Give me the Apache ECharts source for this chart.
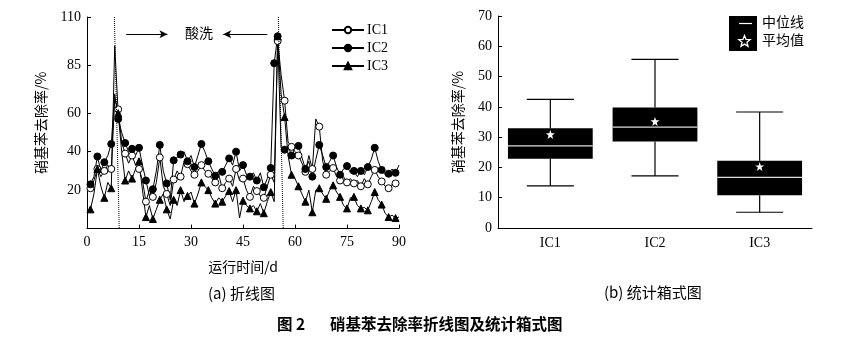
<!DOCTYPE html>
<html>
<head>
<meta charset="utf-8">
<script src="https://cdn.jsdelivr.net/npm/echarts@6/dist/echarts.min.js"></script>
<style>
  html, body { margin: 0; padding: 0; background: #fff; }
  #chart { width: 843px; height: 344px; }
</style>
</head>
<body>
<div id="chart"></div>
<script>
// Nitrobenzene removal rate (%) per operating day, three reactors
const days = Array.from({ length: 90 }, (_, i) => i + 1);

const ic1 = [21, 25, 31, 27, 30, 33, 31, 67, 62, 45,
             39, 34, 38, 33, 31, 25, 14, 20, 16.5, 24,
             37, 22, 18, 12, 25.5, 30, 27, 35, 33.5, 30,
             28, 30, 33, 30, 28.5, 26, 24, 28, 21, 24,
             26, 22, 31, 25, 26, 20, 16.5, 22, 19.5, 17,
             16, 22, 28, 24, 97.5, 80, 66.5, 45, 42.5, 40,
             38, 34, 29.5, 38, 31, 57, 53, 35, 28, 30,
             31.5, 27, 25, 27, 24, 26, 23.5, 25, 22, 26,
             23, 27, 30.5, 27, 24.5, 22, 21, 23, 23.5, 24];

const ic2 = [23, 27, 37.5, 30, 34.5, 38, 44, 70, 57, 50,
             44.5, 40, 41.5, 38, 42, 33, 25, 17, 20.5, 30,
             43.5, 30, 23.5, 15, 35.5, 37, 38.5, 40, 35, 38,
             32, 38, 44, 40, 35, 31, 27.5, 30, 29.5, 33,
             36.5, 33, 40, 30, 33, 28, 27, 29, 25, 29,
             21.5, 26, 31.5, 86, 100, 42, 41, 43, 38, 42,
             43, 37, 31, 35, 27, 36, 43.5, 38, 32, 35,
             38, 32, 28, 31, 32.5, 29, 30, 27, 30, 28,
             32, 36, 42, 35, 30.5, 28, 28.5, 31, 29, 33];

const ic3 = [10, 18, 31, 22, 16, 24, 21, 95, 60, 40,
             25, 30, 26, 31, 35, 20, 6, 12, 5, 10,
             15, 18, 10, 5, 15, 12, 20, 14, 17, 19,
             13, 18, 24, 22, 20, 16, 13, 16, 14, 17,
             19.5, 14, 20, 5.5, 14.5, 12, 10.5, 12, 9, 13,
             8, 14, 19, 14, 100, 70, 58, 38, 28, 26,
             22, 18, 14, 20, 8.5, 20, 21, 18, 15.5, 20,
             22.5, 19, 16.5, 12, 10.5, 16, 16.5, 12, 10.5, 11,
             9.5, 14, 19, 15, 12.5, 8, 6, 7, 5.5, 6];

// Days carrying a marker besides the odd days
const extraMarked = { IC1: [], IC2: [54], IC3: [] };

// Acid-wash events (day at the top / bottom of the dotted guide)
const acidWash = [[7.9, 9.3], [55.2, 56.6]];

const leftYTicks = [20, 40, 60, 85, 110];

// Box statistics: [lower whisker, Q1, median, Q3, upper whisker]
const groups = ['IC1', 'IC2', 'IC3'];
const boxStats = [
  [13.9, 22.9, 27.1, 32.9, 42.5],
  [17.2, 28.6, 33.3, 39.8, 55.7],
  [5.2, 10.8, 16.7, 22.2, 38.3]
];
const means = [30.9, 35.2, 20.3];

const serif = "'Liberation Serif', 'Noto Sans CJK SC', serif";
const cjk = "'Noto Sans CJK SC', 'Liberation Serif', sans-serif";
const starPath = 'path://M0,-10L2.35,-3.24L9.51,-3.09L3.8,1.24L5.88,8.09L0,4.2L-5.88,8.09L-3.8,1.24L-9.51,-3.09L-2.35,-3.24Z';

function lineData(name, values) {
  return values.map((v, i) => {
    const d = days[i];
    const marked = d % 2 === 1 || extraMarked[name].indexOf(d) >= 0;
    return marked ? [d, v] : { value: [d, v], symbol: 'none' };
  });
}

function starPoints(cx, cy, ro, ri) {
  const pts = [];
  for (let k = 0; k < 10; k++) {
    const r = k % 2 === 0 ? ro : ri;
    const a = -Math.PI / 2 + k * Math.PI / 5;
    pts.push([cx + r * Math.cos(a), cy + r * Math.sin(a)]);
  }
  return pts;
}

const chart = echarts.init(document.getElementById('chart'), null, { renderer: 'canvas' });

const axisCommon = {
  axisLine: { show: true, lineStyle: { color: '#000', width: 1 } },
  axisTick: { show: true, inside: true, length: 4, lineStyle: { color: '#000' } },
  splitLine: { show: false },
  axisLabel: { color: '#000', fontFamily: serif, fontSize: 14 }
};

// IC1 uses white-filled circles, IC2 black circles, IC3 black triangles
const lineSeries = [
  { name: 'IC1', data: ic1, symbol: 'circle', fill: '#fff' },
  { name: 'IC2', data: ic2, symbol: 'circle', fill: '#000' },
  { name: 'IC3', data: ic3, symbol: 'triangle', fill: '#000' }
].map(s => ({
  name: s.name,
  type: 'line',
  xAxisIndex: 0,
  yAxisIndex: 0,
  data: lineData(s.name, s.data),
  symbol: s.symbol,
  symbolSize: 7,
  showAllSymbol: true,
  color: '#000',
  itemStyle: { color: s.fill, borderColor: '#000', borderWidth: 1 },
  lineStyle: { color: '#000', width: 1 },
  emphasis: { disabled: true },
  animation: false,
  z: 3
}));

// Dotted acid-wash guides and the arrows pointing at the label
lineSeries[0].markLine = {
  silent: true,
  animation: false,
  symbol: ['none', 'none'],
  label: { show: false },
  lineStyle: { color: '#000', type: 'dotted', width: 1 },
  data: acidWash.map(a => [{ coord: [a[0], 110] }, { coord: [a[1], 0] }])
};
lineSeries[1].markLine = {
  silent: true,
  animation: false,
  symbol: ['none', 'arrow'],
  symbolSize: [6, 8],
  label: { show: false },
  lineStyle: { color: '#000', type: 'solid', width: 1 },
  itemStyle: { color: '#000' },
  data: [
    [{ coord: [11.3, 101] }, { coord: [23.2, 101] }],
    [{ coord: [52.0, 101] }, { coord: [39.3, 101] }]
  ]
};

const option = {
  backgroundColor: '#fff',
  animation: false,
  grid: [
    { left: 87, top: 17, width: 312, height: 211.6 },
    { left: 498, top: 16, width: 314, height: 212 }
  ],
  legend: {
    data: ['IC1', 'IC2', 'IC3'],
    orient: 'vertical',
    left: 326,
    top: 18,
    itemWidth: 32,
    itemHeight: 8,
    itemGap: 4,
    selectedMode: false,
    textStyle: { color: '#000', fontFamily: serif, fontSize: 14, padding: [0, 0, 0, -2] }
  },
  xAxis: [
    Object.assign({}, axisCommon, {
      type: 'value', gridIndex: 0, min: 0, max: 90, interval: 15,
      name: '运行时间/d', nameLocation: 'middle', nameGap: 31,
      nameTextStyle: { color: '#000', fontFamily: cjk, fontSize: 14 },
      axisLabel: Object.assign({}, axisCommon.axisLabel, { margin: 7 })
    }),
    Object.assign({}, axisCommon, {
      type: 'category', gridIndex: 1, data: groups,
      axisTick: { show: false },
      axisLabel: Object.assign({}, axisCommon.axisLabel, { margin: 8 })
    })
  ],
  yAxis: [
    Object.assign({}, axisCommon, {
      type: 'value', gridIndex: 0, min: 0, max: 110,
      axisTick: Object.assign({}, axisCommon.axisTick, { customValues: leftYTicks }),
      axisLabel: Object.assign({}, axisCommon.axisLabel, { customValues: leftYTicks, margin: 6 }),
      name: '硝基苯去除率/%', nameLocation: 'middle', nameGap: 39,
      nameTextStyle: { color: '#000', fontFamily: cjk, fontSize: 14 }
    }),
    Object.assign({}, axisCommon, {
      type: 'value', gridIndex: 1, min: 0, max: 70, interval: 10,
      axisLabel: Object.assign({}, axisCommon.axisLabel, { margin: 6 }),
      name: '硝基苯去除率/%', nameLocation: 'middle', nameGap: 33,
      nameTextStyle: { color: '#000', fontFamily: cjk, fontSize: 14 }
    })
  ],
  series: lineSeries.concat([
    {
      name: 'box',
      type: 'custom',
      xAxisIndex: 1,
      yAxisIndex: 1,
      data: boxStats.map((b, i) => [i].concat(b)),
      encode: { x: 0, y: [1, 2, 3, 4, 5] },
      silent: true,
      renderItem: function (params, api) {
        const i = api.value(0);
        const low = api.coord([i, api.value(1)]);
        const q1 = api.coord([i, api.value(2)]);
        const med = api.coord([i, api.value(3)]);
        const q3 = api.coord([i, api.value(4)]);
        const high = api.coord([i, api.value(5)]);
        const band = api.size([1, 0])[0];
        const bw = band * 0.81;
        const cw = band * 0.45;
        const x = low[0];
        const ln = { stroke: '#000', lineWidth: 1.2 };
        return {
          type: 'group',
          children: [
            { type: 'line', shape: { x1: x, y1: high[1], x2: x, y2: q3[1] }, style: ln },
            { type: 'line', shape: { x1: x, y1: q1[1], x2: x, y2: low[1] }, style: ln },
            { type: 'line', shape: { x1: x - cw / 2, y1: high[1], x2: x + cw / 2, y2: high[1] }, style: ln },
            { type: 'line', shape: { x1: x - cw / 2, y1: low[1], x2: x + cw / 2, y2: low[1] }, style: ln },
            { type: 'rect', shape: { x: x - bw / 2, y: q3[1], width: bw, height: q1[1] - q3[1] }, style: { fill: '#000' } },
            { type: 'line', shape: { x1: x - bw / 2, y1: med[1], x2: x + bw / 2, y2: med[1] }, style: { stroke: '#dcdcdc', lineWidth: 1.2 } }
          ]
        };
      },
      z: 2
    },
    {
      name: 'mean',
      type: 'scatter',
      xAxisIndex: 1,
      yAxisIndex: 1,
      data: groups.map((g, i) => [g, means[i]]),
      symbol: starPath,
      symbolSize: 9,
      itemStyle: { color: '#fff', opacity: 1 },
      silent: true,
      z: 4
    }
  ]),
  graphic: [
    { type: 'text', left: 185, top: 26, style: { text: '酸洗', font: '14px ' + cjk, fill: '#000' } },
    // Box legend
    { type: 'rect', shape: { x: 729, y: 16, width: 28, height: 35 }, style: { fill: '#000' } },
    { type: 'line', shape: { x1: 739, y1: 23.5, x2: 752, y2: 23.5 }, style: { stroke: '#fff', lineWidth: 1.2 } },
    { type: 'polygon', shape: { points: starPoints(744.5, 41.5, 6, 2.6) }, style: { fill: '#000', stroke: '#fff', lineWidth: 1.3 } },
    { type: 'text', left: 762, top: 15, style: { text: '中位线', font: '14px ' + cjk, fill: '#000' } },
    { type: 'text', left: 762, top: 33, style: { text: '平均值', font: '14px ' + cjk, fill: '#000' } },
    // Panel captions and figure title
    { type: 'text', left: 208, top: 286, style: { text: '(a) 折线图', font: '15px ' + cjk, fill: '#000' } },
    { type: 'text', left: 604, top: 285, style: { text: '(b) 统计箱式图', font: '15px ' + cjk, fill: '#000' } },
    { type: 'text', left: 277, top: 316, style: { text: '图 2', font: 'bold 15.5px ' + cjk, fill: '#000' } },
    { type: 'text', left: 330, top: 316, style: { text: '硝基苯去除率折线图及统计箱式图', font: 'bold 15.5px ' + cjk, fill: '#000' } }
  ]
};

chart.setOption(option);
</script>
</body>
</html>
